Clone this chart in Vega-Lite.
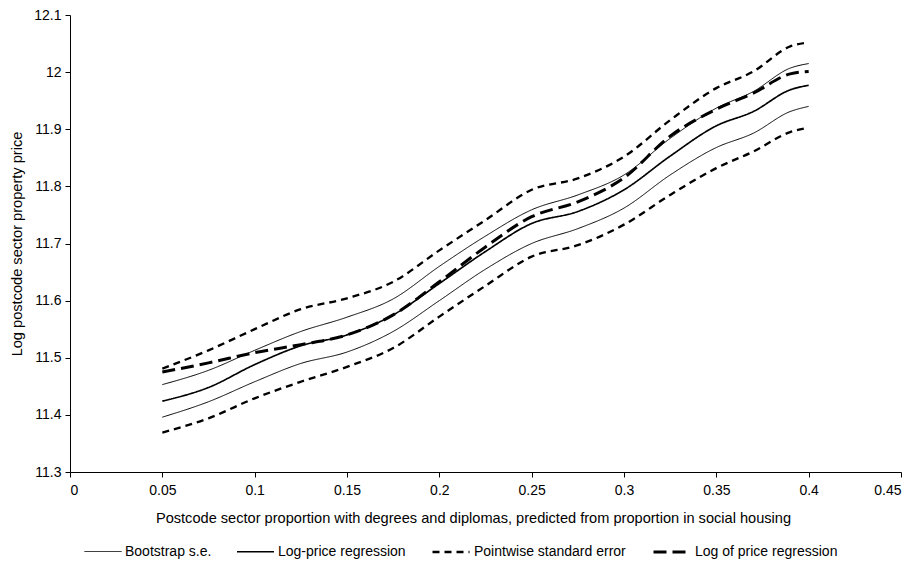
{
  "$schema": "https://vega.github.io/schema/vega-lite/v6.json",
  "width": 831,
  "height": 457,
  "autosize": {"type": "none"},
  "padding": {"left": 70, "top": 15, "right": 18, "bottom": 94},
  "background": "white",
  "config": {
    "view": {"stroke": null},
    "font": "Liberation Sans",
    "axis": {
      "grid": false,
      "domainColor": "black",
      "tickColor": "black",
      "tickSize": 5,
      "labelColor": "black",
      "titleColor": "black",
      "labelFont": "Liberation Sans",
      "titleFont": "Liberation Sans",
      "labelFontSize": 14,
      "titleFontSize": 14.6,
      "titleFontWeight": "normal"
    },
    "legend": {
      "labelFont": "Liberation Sans",
      "labelFontSize": 14,
      "labelColor": "black"
    }
  },
  "data": {
    "values": [
      {"x": 0.05, "y": 11.424, "line": "LP", "group": "Log-price regression"},
      {"x": 0.075, "y": 11.448, "line": "LP", "group": "Log-price regression"},
      {"x": 0.1, "y": 11.488, "line": "LP", "group": "Log-price regression"},
      {"x": 0.125, "y": 11.521, "line": "LP", "group": "Log-price regression"},
      {"x": 0.15, "y": 11.54, "line": "LP", "group": "Log-price regression"},
      {"x": 0.175, "y": 11.575, "line": "LP", "group": "Log-price regression"},
      {"x": 0.2, "y": 11.63, "line": "LP", "group": "Log-price regression"},
      {"x": 0.225, "y": 11.686, "line": "LP", "group": "Log-price regression"},
      {"x": 0.25, "y": 11.735, "line": "LP", "group": "Log-price regression"},
      {"x": 0.275, "y": 11.756, "line": "LP", "group": "Log-price regression"},
      {"x": 0.3, "y": 11.794, "line": "LP", "group": "Log-price regression"},
      {"x": 0.325, "y": 11.853, "line": "LP", "group": "Log-price regression"},
      {"x": 0.35, "y": 11.906, "line": "LP", "group": "Log-price regression"},
      {"x": 0.37, "y": 11.931, "line": "LP", "group": "Log-price regression"},
      {"x": 0.39, "y": 11.969, "line": "LP", "group": "Log-price regression"},
      {"x": 0.4, "y": 11.977, "line": "LP", "group": "Log-price regression"},

      {"x": 0.05, "y": 11.475, "line": "LoP", "group": "Log of price regression"},
      {"x": 0.075, "y": 11.491, "line": "LoP", "group": "Log of price regression"},
      {"x": 0.1, "y": 11.509, "line": "LoP", "group": "Log of price regression"},
      {"x": 0.125, "y": 11.523, "line": "LoP", "group": "Log of price regression"},
      {"x": 0.15, "y": 11.54, "line": "LoP", "group": "Log of price regression"},
      {"x": 0.175, "y": 11.575, "line": "LoP", "group": "Log of price regression"},
      {"x": 0.2, "y": 11.633, "line": "LoP", "group": "Log of price regression"},
      {"x": 0.225, "y": 11.694, "line": "LoP", "group": "Log of price regression"},
      {"x": 0.25, "y": 11.747, "line": "LoP", "group": "Log of price regression"},
      {"x": 0.275, "y": 11.773, "line": "LoP", "group": "Log of price regression"},
      {"x": 0.3, "y": 11.815, "line": "LoP", "group": "Log of price regression"},
      {"x": 0.325, "y": 11.888, "line": "LoP", "group": "Log of price regression"},
      {"x": 0.35, "y": 11.935, "line": "LoP", "group": "Log of price regression"},
      {"x": 0.37, "y": 11.963, "line": "LoP", "group": "Log of price regression"},
      {"x": 0.39, "y": 11.997, "line": "LoP", "group": "Log of price regression"},
      {"x": 0.4, "y": 12.001, "line": "LoP", "group": "Log of price regression"},

      {"x": 0.05, "y": 11.453, "line": "BU", "group": "Bootstrap s.e."},
      {"x": 0.075, "y": 11.478, "line": "BU", "group": "Bootstrap s.e."},
      {"x": 0.1, "y": 11.513, "line": "BU", "group": "Bootstrap s.e."},
      {"x": 0.125, "y": 11.546, "line": "BU", "group": "Bootstrap s.e."},
      {"x": 0.15, "y": 11.571, "line": "BU", "group": "Bootstrap s.e."},
      {"x": 0.175, "y": 11.603, "line": "BU", "group": "Bootstrap s.e."},
      {"x": 0.2, "y": 11.66, "line": "BU", "group": "Bootstrap s.e."},
      {"x": 0.225, "y": 11.713, "line": "BU", "group": "Bootstrap s.e."},
      {"x": 0.25, "y": 11.759, "line": "BU", "group": "Bootstrap s.e."},
      {"x": 0.275, "y": 11.785, "line": "BU", "group": "Bootstrap s.e."},
      {"x": 0.3, "y": 11.82, "line": "BU", "group": "Bootstrap s.e."},
      {"x": 0.325, "y": 11.884, "line": "BU", "group": "Bootstrap s.e."},
      {"x": 0.35, "y": 11.937, "line": "BU", "group": "Bootstrap s.e."},
      {"x": 0.37, "y": 11.966, "line": "BU", "group": "Bootstrap s.e."},
      {"x": 0.39, "y": 12.007, "line": "BU", "group": "Bootstrap s.e."},
      {"x": 0.4, "y": 12.015, "line": "BU", "group": "Bootstrap s.e."},

      {"x": 0.05, "y": 11.396, "line": "BL", "group": "Bootstrap s.e."},
      {"x": 0.075, "y": 11.423, "line": "BL", "group": "Bootstrap s.e."},
      {"x": 0.1, "y": 11.458, "line": "BL", "group": "Bootstrap s.e."},
      {"x": 0.125, "y": 11.49, "line": "BL", "group": "Bootstrap s.e."},
      {"x": 0.15, "y": 11.51, "line": "BL", "group": "Bootstrap s.e."},
      {"x": 0.175, "y": 11.546, "line": "BL", "group": "Bootstrap s.e."},
      {"x": 0.2, "y": 11.6, "line": "BL", "group": "Bootstrap s.e."},
      {"x": 0.225, "y": 11.655, "line": "BL", "group": "Bootstrap s.e."},
      {"x": 0.25, "y": 11.7, "line": "BL", "group": "Bootstrap s.e."},
      {"x": 0.275, "y": 11.726, "line": "BL", "group": "Bootstrap s.e."},
      {"x": 0.3, "y": 11.762, "line": "BL", "group": "Bootstrap s.e."},
      {"x": 0.325, "y": 11.82, "line": "BL", "group": "Bootstrap s.e."},
      {"x": 0.35, "y": 11.868, "line": "BL", "group": "Bootstrap s.e."},
      {"x": 0.37, "y": 11.893, "line": "BL", "group": "Bootstrap s.e."},
      {"x": 0.39, "y": 11.931, "line": "BL", "group": "Bootstrap s.e."},
      {"x": 0.4, "y": 11.94, "line": "BL", "group": "Bootstrap s.e."},

      {"x": 0.05, "y": 11.481, "line": "PU", "group": "Pointwise standard error"},
      {"x": 0.075, "y": 11.513, "line": "PU", "group": "Pointwise standard error"},
      {"x": 0.1, "y": 11.55, "line": "PU", "group": "Pointwise standard error"},
      {"x": 0.125, "y": 11.585, "line": "PU", "group": "Pointwise standard error"},
      {"x": 0.15, "y": 11.604, "line": "PU", "group": "Pointwise standard error"},
      {"x": 0.175, "y": 11.633, "line": "PU", "group": "Pointwise standard error"},
      {"x": 0.2, "y": 11.688, "line": "PU", "group": "Pointwise standard error"},
      {"x": 0.225, "y": 11.741, "line": "PU", "group": "Pointwise standard error"},
      {"x": 0.25, "y": 11.794, "line": "PU", "group": "Pointwise standard error"},
      {"x": 0.275, "y": 11.814, "line": "PU", "group": "Pointwise standard error"},
      {"x": 0.3, "y": 11.852, "line": "PU", "group": "Pointwise standard error"},
      {"x": 0.325, "y": 11.916, "line": "PU", "group": "Pointwise standard error"},
      {"x": 0.35, "y": 11.972, "line": "PU", "group": "Pointwise standard error"},
      {"x": 0.37, "y": 12.001, "line": "PU", "group": "Pointwise standard error"},
      {"x": 0.39, "y": 12.045, "line": "PU", "group": "Pointwise standard error"},
      {"x": 0.4, "y": 12.052, "line": "PU", "group": "Pointwise standard error"},

      {"x": 0.05, "y": 11.369, "line": "PL", "group": "Pointwise standard error"},
      {"x": 0.075, "y": 11.394, "line": "PL", "group": "Pointwise standard error"},
      {"x": 0.1, "y": 11.429, "line": "PL", "group": "Pointwise standard error"},
      {"x": 0.125, "y": 11.458, "line": "PL", "group": "Pointwise standard error"},
      {"x": 0.15, "y": 11.484, "line": "PL", "group": "Pointwise standard error"},
      {"x": 0.175, "y": 11.517, "line": "PL", "group": "Pointwise standard error"},
      {"x": 0.2, "y": 11.572, "line": "PL", "group": "Pointwise standard error"},
      {"x": 0.225, "y": 11.626, "line": "PL", "group": "Pointwise standard error"},
      {"x": 0.25, "y": 11.677, "line": "PL", "group": "Pointwise standard error"},
      {"x": 0.275, "y": 11.697, "line": "PL", "group": "Pointwise standard error"},
      {"x": 0.3, "y": 11.733, "line": "PL", "group": "Pointwise standard error"},
      {"x": 0.325, "y": 11.785, "line": "PL", "group": "Pointwise standard error"},
      {"x": 0.35, "y": 11.832, "line": "PL", "group": "Pointwise standard error"},
      {"x": 0.37, "y": 11.861, "line": "PL", "group": "Pointwise standard error"},
      {"x": 0.39, "y": 11.895, "line": "PL", "group": "Pointwise standard error"},
      {"x": 0.4, "y": 11.903, "line": "PL", "group": "Pointwise standard error"}
    ]
  },
  "mark": {"type": "line", "interpolate": "monotone", "color": "black"},
  "encoding": {
    "x": {
      "field": "x",
      "type": "quantitative",
      "scale": {"domain": [0, 0.45], "nice": false, "zero": false},
      "axis": {
        "values": [0, 0.05, 0.1, 0.15, 0.2, 0.25, 0.3, 0.35, 0.4, 0.45],
        "labelExpr": "'' + datum.value",
        "labelPadding": 6,
        "title": "Postcode sector proportion with degrees and diplomas, predicted from proportion in social housing",
        "titlePadding": 13,
        "titleX": 403
      }
    },
    "y": {
      "field": "y",
      "type": "quantitative",
      "scale": {"domain": [11.3, 12.1], "nice": false, "zero": false},
      "axis": {
        "values": [11.3, 11.4, 11.5, 11.6, 11.7, 11.8, 11.9, 12, 12.1],
        "labelExpr": "'' + datum.value",
        "labelPadding": 4,
        "title": "Log postcode sector property price",
        "titlePadding": 9
      }
    },
    "detail": {"field": "line"},
    "strokeDash": {
      "field": "group",
      "type": "nominal",
      "scale": {
        "domain": ["Bootstrap s.e.", "Log-price regression", "Pointwise standard error", "Log of price regression"],
        "range": [[1, 0], [1, 0], [7, 5], [13, 6]]
      },
      "legend": {
        "title": null,
        "orient": "none",
        "legendX": 14,
        "legendY": 517,
        "direction": "horizontal",
        "symbolType": "stroke",
        "symbolSize": 1369,
        "symbolStrokeColor": "black",
        "columnPadding": 21,
        "labelOffset": 3
      }
    },
    "strokeWidth": {
      "field": "group",
      "type": "nominal",
      "scale": {
        "domain": ["Bootstrap s.e.", "Log-price regression", "Pointwise standard error", "Log of price regression"],
        "range": [1, 3, 1.2, 3.5]
      },
      "legend": {
        "title": null,
        "orient": "none",
        "legendX": 14,
        "legendY": 517,
        "direction": "horizontal",
        "symbolType": "stroke",
        "symbolSize": 1369,
        "symbolStrokeColor": "black",
        "columnPadding": 21,
        "labelOffset": 3
      }
    }
  }
}
